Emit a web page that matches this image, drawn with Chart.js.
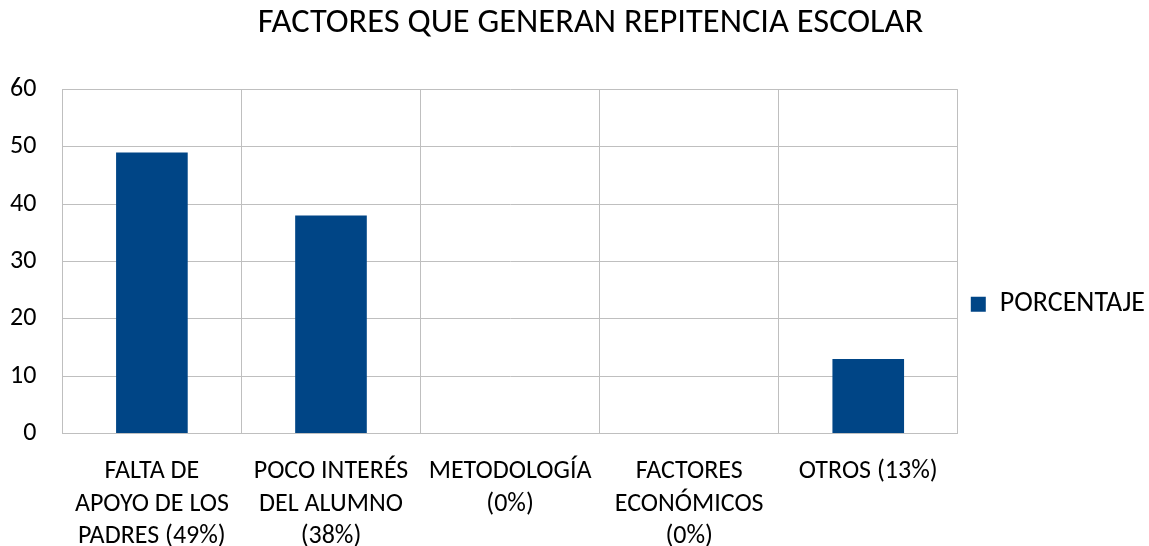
<!DOCTYPE html>
<html>
<head>
<meta charset="utf-8">
<script src="https://cdn.jsdelivr.net/npm/chart.js@4"></script>
<style>
  html, body { margin: 0; padding: 0; background: #fff; }
  #wrap { width: 1149px; height: 546px; }
</style>
</head>
<body>
<div id="wrap"><canvas id="repitencia"></canvas></div>
<script>
const categories = [
	["FALTA DE", "APOYO DE LOS", "PADRES (49%)"],
	["POCO INTERÉS", "DEL ALUMNO", "(38%)"],
	["METODOLOGÍA", "(0%)"],
	["FACTORES", "ECONÓMICOS", "(0%)"],
	["OTROS (13%)"],
];
const porcentaje = [49, 38, 0, 0, 13];
const yTicks = [0, 10, 20, 30, 40, 50, 60];

const fontFamily = "Carlito, 'Open Sans', sans-serif";
const gridColor = "#bfbfbf";

// title sits a bit right of the canvas centre in the original
const titleShift = {
	id: "titleShift",
	afterLayout: (chart) => {
		if (chart.titleBlock) {
			chart.titleBlock.left += 21;
			chart.titleBlock.right += 21;
		}
	},
};

const ctx = document.getElementById("repitencia");
const myChart = new Chart(ctx, {
	type: "bar",
	data: {
		labels: categories,
		datasets: [
			{
				label: "PORCENTAJE",
				data: porcentaje,
				backgroundColor: "#004586",
				borderWidth: 0,
				barPercentage: 0.4,
				categoryPercentage: 1,
			},
		],
	},
	options: {
		responsive: true,
		maintainAspectRatio: false,
		animation: false,
		layout: {
			// ticks padding counts twice in the axis size, so pull the edges out
			padding: { left: -16, right: -6, top: 0, bottom: -29 },
		},
		plugins: {
			title: {
				display: true,
				text: "FACTORES QUE GENERAN REPITENCIA ESCOLAR",
				color: "#000",
				font: { family: fontFamily, size: 34.5, weight: "normal" },
				padding: { top: 3, bottom: 45 },
			},
			legend: {
				position: "right",
				fullSize: false,
				title: {
					display: true,
					text: "",
					padding: { top: 71, bottom: 0 },
				},
				labels: {
					color: "#000",
					boxWidth: 15,
					boxHeight: 15,
					padding: 13,
					font: { family: fontFamily, size: 28 },
				},
			},
			tooltip: { enabled: false },
		},
		scales: {
			x: {
				// labels fit inside their categories, drop the extra side padding
				afterFit: (axis) => {
					axis.paddingLeft = 0;
					axis.paddingRight = 0;
				},
				grid: {
					color: gridColor,
					lineWidth: 1,
					drawTicks: false,
				},
				border: { color: gridColor, width: 1 },
				ticks: {
					color: "#000",
					maxRotation: 0,
					autoSkip: false,
					padding: 22,
					font: { family: fontFamily, size: 26, lineHeight: 1.25 },
				},
			},
			y: {
				min: 0,
				max: 60,
				afterBuildTicks: (axis) => {
					axis.ticks = yTicks.map((v) => ({ value: v }));
				},
				grid: {
					color: gridColor,
					lineWidth: 1,
					drawTicks: false,
				},
				border: { color: gridColor, width: 1 },
				ticks: {
					color: "#000",
					padding: 26,
					font: { family: fontFamily, size: 26 },
				},
			},
		},
	},
	plugins: [titleShift],
});
</script>
</body>
</html>
